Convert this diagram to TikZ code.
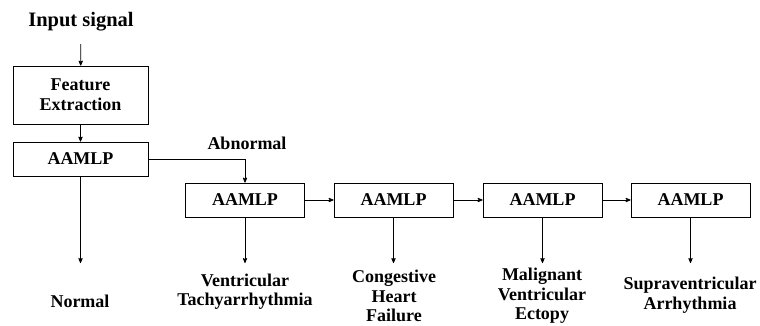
\documentclass[tikz,border=0pt]{standalone}
\usepackage{fontspec}
\setmainfont{Liberation Serif}
\usetikzlibrary{arrows,positioning}

\begin{document}
\begin{tikzpicture}[>=stealth',x=1pt,y=-1pt,line width=0.8pt,
  lbl/.style={font=\fontsize{18}{19.5}\selectfont\bfseries,align=center},
  box/.style={draw,lbl,minimum width=119pt,minimum height=34pt,inner sep=0pt}]
  \useasboundingbox (0,0) rectangle (760,325);

  \node[lbl,font=\fontsize{20.5}{22}\selectfont\bfseries] (in) at (81,22) {Input signal};
  \node[box,minimum width=135pt,minimum height=58pt,font=\fontsize{18}{20}\selectfont\bfseries] (fe) at (80.5,95) {Feature\\Extraction};
  \node[box,minimum width=135pt] (m0) at (80.5,159) {AAMLP};
  \node[box] (m1) at (245,200) {AAMLP};
  \node[box] (m2) at (393.5,200) {AAMLP};
  \node[box] (m3) at (542.5,200) {AAMLP};
  \node[box] (m4) at (690.5,200) {AAMLP};

  \node[lbl] (ab) at (247,143) {Abnormal};
  \node[lbl] (c0) at (80,301) {Normal};
  \node[lbl] (c1) at (245,291.5) {Ventricular\\Tachyarrhythmia};
  \node[lbl] (c2) at (394,296) {Congestive\\Heart\\Failure};
  \node[lbl] (c3) at (542,296) {Malignant\\Ventricular\\Ectopy};
  \node[lbl] (c4) at (690,295) {Supraventricular\\Arrhythmia};

  % arrow tips above the class labels
  \coordinate (t0) at (80.5,263);
  \coordinate (t1) at (245,263);
  \coordinate (t2) at (393.5,263);
  \coordinate (t3) at (542.5,263);
  \coordinate (t4) at (690.5,263);

  \draw[->,shorten <=9pt] (in) -- (fe);
  \draw[->] (fe) -- (m0);
  \draw[->] (m0.east) -| (m1.north);
  \draw[->] (m1) -- (m2);
  \draw[->] (m2) -- (m3);
  \draw[->] (m3) -- (m4);

  \draw[->] (m0) -- (t0);
  \draw[->] (m1) -- (t1);
  \draw[->] (m2) -- (t2);
  \draw[->] (m3) -- (t3);
  \draw[->] (m4) -- (t4);
\end{tikzpicture}
\end{document}
